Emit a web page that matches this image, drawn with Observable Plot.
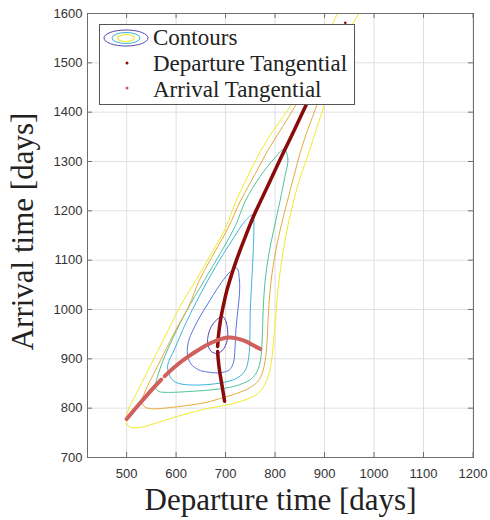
<!DOCTYPE html>
<html><head><meta charset="utf-8">
<script src="https://cdn.jsdelivr.net/npm/d3@7"></script>
<script src="https://cdn.jsdelivr.net/npm/@observablehq/plot@0.6"></script>
<style>
html,body{margin:0;padding:0;background:#fff;}
#wrap{position:relative;width:490px;height:520px;}
#legend{position:absolute;left:99px;top:24px;}
</style></head><body><div id="wrap"></div>
<script>
const xTicks = [500, 600, 700, 800, 900, 1000, 1100, 1200];
const yTicks = [700, 800, 900, 1000, 1100, 1200, 1300, 1400, 1500, 1600];
const xDomain = [421, 1201];
const yDomain = [700, 1600];
const xLabel = "Departure time [days]";
const yLabel = "Arrival time [days]";
const legendLabels = ["Contours", "Departure Tangential", "Arrival Tangential"];

// contour levels, innermost to outermost
const contourL1 = [[694,986],[701,975],[704,960],[704,941],[699,925],[690,914],[680,911],[670,916],[664,930],[665,948],[671,965],[682,979]];
const contourL2 = [[723,1084],[728,1060],[728,1030],[725,1000],[721,960],[719,920],[716,893],[708,878],[690,872],[665,873],[645,878],[630,890],[623,908],[625,935],[635,960],[648,985],[665,1013],[687,1048],[705,1072],[715,1081]];
const contourL3 = [[755,1192],[757,1180],[756,1120],[753,1060],[750,1000],[749,940],[747,905],[740,877],[725,862],[700,853],[650,847],[610,849],[595,855],[586,868],[583,887],[597,920],[620,973],[647,1027],[680,1087],[713,1140],[740,1180]];
const contourL4 = [[818,1325],[826,1305],[820,1270],[810,1220],[797,1160],[787,1110],[780,1059],[776,1000],[774,940],[771,900],[764,875],[750,858],[720,845],[680,838],[630,834],[580,832],[565,834],[558,842],[562,862],[575,900],[595,945],[620,995],[657,1059],[690,1115],[720,1170],[740,1220],[770,1270],[800,1308]];
const contourL5 = [[905,1510],[898,1460],[884,1413],[868,1370],[852,1322],[838,1270],[825,1220],[810,1160],[798,1100],[790,1040],[786,980],[783,924],[778,885],[768,858],[750,842],[723,830],[690,820],[662,812],[595,802],[548,799],[536,803],[531,812],[540,840],[555,870],[575,910],[600,960],[625,1005],[647,1059],[680,1120],[705,1165],[730,1220],[760,1275],[785,1322],[815,1370],[841,1413],[870,1460]];
const contourL6 = [[940,1630],[926,1600],[880,1500],[831,1413],[800,1368],[770,1320],[745,1270],[721,1220],[700,1165],[672,1115],[640,1059],[610,1010],[585,960],[560,910],[540,870],[520,830],[505,800],[500,780],[501,768],[508,761],[528,761],[560,770],[595,781],[630,791],[662,799],[709,808],[740,817],[760,826],[776,842],[786,865],[792,890],[796,924],[800,970],[805,1030],[812,1090],[822,1150],[835,1210],[850,1265],[869,1320],[885,1370],[899,1413],[915,1470],[935,1530],[952,1570],[969,1600],[980,1625]];
const contourColors = ["#5246b4", "#5a74e0", "#3fb3dc", "#50c39c", "#e4ab3c", "#f0ec28"];

const departureLower = [[698,814],[693,845],[688,875],[685,900],[684,915]];
const departureUpper = [[684,925],[686,950],[690,980],[696,1010],[703,1040],[712,1070],[722,1100],[737,1140],[757,1190],[785,1250],[813,1310],[838,1362],[862,1413],[886,1463],[910,1512]];
const departureStray = [[942,1581]];
const arrivalLeft = [[500,778],[520,802],[540,825],[558,845],[570,858]];
const arrivalRight = [[577,865],[600,886],[625,905],[650,921],[670,932],[690,940],[705,943],[720,942],[740,936],[755,928],[770,920]];
const depColor = "#8b0a0a";
const arrColor = "#d0605e";

const closed = [contourL1, contourL2, contourL3, contourL4, contourL5];
const serif = "'Liberation Serif', 'Times New Roman', serif";
const frameColor = "#6e6e6e";

const contourMarks = closed.map((pts, i) =>
  Plot.line(pts, {x: d => d[0], y: d => d[1], stroke: contourColors[i], strokeWidth: 1, curve: "catmull-rom-closed", clip: true}));
contourMarks.push(Plot.line(contourL6, {x: d => d[0], y: d => d[1], stroke: contourColors[5], strokeWidth: 1, curve: "catmull-rom", clip: true}));

const chart = Plot.plot({
  width: 490, height: 520,
  marginLeft: 87, marginRight: 17, marginTop: 13, marginBottom: 63,
  x: {domain: xDomain, ticks: xTicks, label: null},
  y: {domain: yDomain, ticks: yTicks, label: null},
  style: {fontFamily: "'Liberation Sans', Arial, sans-serif", fontSize: "13px", color: "#333", background: "#fff"},
  marks: [
    Plot.gridX(xTicks, {stroke: "#dfdfdf", strokeOpacity: 1}),
    Plot.gridY(yTicks, {stroke: "#dfdfdf", strokeOpacity: 1}),
    ...contourMarks,
    Plot.line(departureLower, {x: d => d[0], y: d => d[1], stroke: depColor, strokeWidth: 3.5, curve: "catmull-rom"}),
    Plot.line(departureUpper, {x: d => d[0], y: d => d[1], stroke: depColor, strokeWidth: 3.5, curve: "catmull-rom", clip: true}),
    Plot.dot(departureStray, {x: d => d[0], y: d => d[1], r: 1.3, fill: depColor}),
    Plot.line(arrivalLeft, {x: d => d[0], y: d => d[1], stroke: arrColor, strokeWidth: 4, curve: "catmull-rom"}),
    Plot.line(arrivalRight, {x: d => d[0], y: d => d[1], stroke: arrColor, strokeWidth: 4, curve: "catmull-rom"}),
    Plot.frame({stroke: frameColor}),
    Plot.ruleX(xTicks, {x: d => d, y1: yDomain[0], y2: yDomain[0], insetBottom: 5, stroke: frameColor}),
    Plot.ruleX(xTicks, {x: d => d, y1: yDomain[1], y2: yDomain[1], insetTop: 5, stroke: frameColor}),
    Plot.ruleY(yTicks, {y: d => d, x1: xDomain[0], x2: xDomain[0], insetLeft: 5, stroke: frameColor}),
    Plot.ruleY(yTicks, {y: d => d, x1: xDomain[1], x2: xDomain[1], insetRight: 5, stroke: frameColor}),
    Plot.axisX(xTicks, {tickSize: 0, tickPadding: 11, label: null, fill: "#333", tickFormat: d => String(d)}),
    Plot.axisY(yTicks, {tickSize: 0, tickPadding: 5, label: null, fill: "#333", tickFormat: d => String(d)}),
    Plot.text([xLabel], {text: d => d, frameAnchor: "bottom", textAnchor: "middle", lineAnchor: "middle", dy: 43, fontSize: 31, fontFamily: serif, fill: "#222"}),
    Plot.text([yLabel], {text: d => d, frameAnchor: "left", textAnchor: "middle", lineAnchor: "middle", rotate: -90, dx: -64, dy: -4, fontSize: 31, fontFamily: serif, fill: "#222"})
  ]
});

const wrap = document.getElementById("wrap");
wrap.appendChild(chart);

// legend overlay
const ns = "http://www.w3.org/2000/svg";
const lg = document.createElementNS(ns, "svg");
lg.setAttribute("id", "legend");
lg.setAttribute("width", 256);
lg.setAttribute("height", 81);
lg.style.position = "absolute"; lg.style.left = "99px"; lg.style.top = "24px";
function el(tag, attrs, txt) {
  const e = document.createElementNS(ns, tag);
  for (const k in attrs) e.setAttribute(k, attrs[k]);
  if (txt) e.textContent = txt;
  lg.appendChild(e);
  return e;
}
el("rect", {x: 0.5, y: 0.5, width: 255, height: 80, fill: "#fff", stroke: "#555", "stroke-width": 1});
el("ellipse", {cx: 27, cy: 14, rx: 22, ry: 8, fill: "none", stroke: contourColors[0], "stroke-width": 1});
el("ellipse", {cx: 27, cy: 14, rx: 14, ry: 5.5, fill: "none", stroke: contourColors[2], "stroke-width": 1});
el("ellipse", {cx: 27, cy: 14, rx: 8.5, ry: 3.5, fill: "none", stroke: contourColors[5], "stroke-width": 1.2});
el("circle", {cx: 28, cy: 39, r: 1.5, fill: depColor});
el("circle", {cx: 28, cy: 64, r: 1.5, fill: arrColor});
[21, 47, 73].forEach((y, i) => {
  el("text", {x: 54, y: y, "font-family": serif, "font-size": 23, fill: "#222"}, legendLabels[i]);
});
wrap.appendChild(lg);
</script></body></html>
